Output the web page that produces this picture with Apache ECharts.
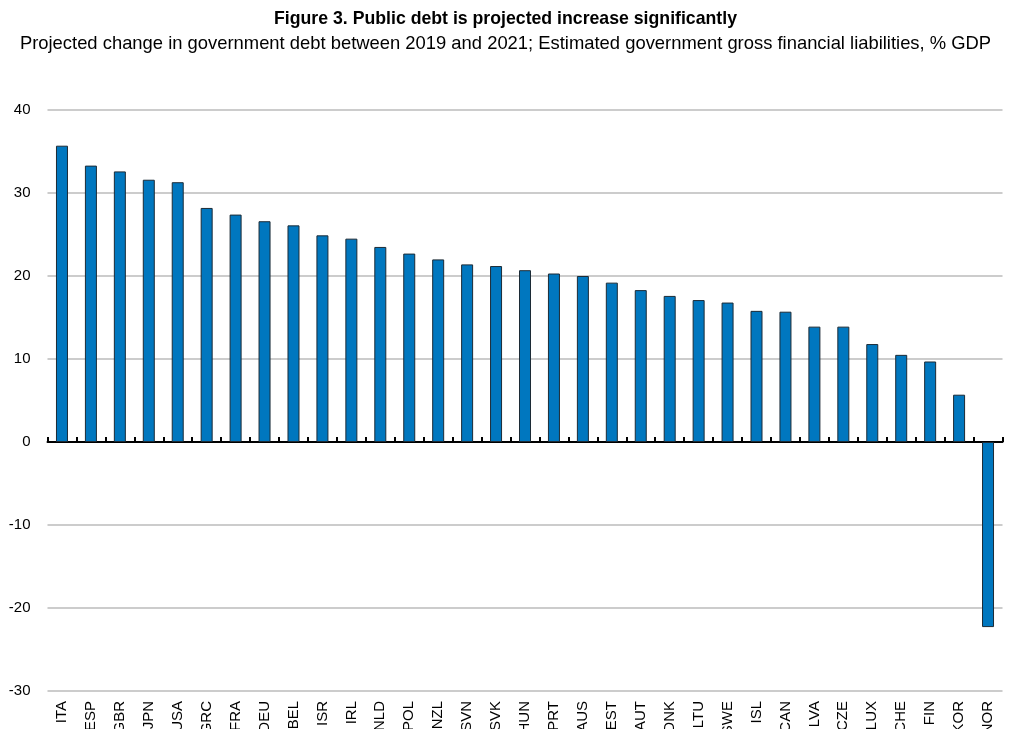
<!DOCTYPE html>
<html>
<head>
<meta charset="utf-8">
<script src="https://cdn.jsdelivr.net/npm/echarts@6/dist/echarts.min.js"></script>
<style>
html,body{margin:0;padding:0;background:#fff;}
#chart{width:1011px;height:729px;}
</style>
</head>
<body>
<div id="chart"></div>
<script>
const titleText = "Figure 3. Public debt is projected increase significantly";
const subtitleText = "Projected change in government debt between 2019 and 2021; Estimated government gross financial liabilities, % GDP";
const categories = ["ITA","ESP","GBR","JPN","USA","GRC","FRA","DEU","BEL","ISR","IRL","NLD","POL","NZL","SVN","SVK","HUN","PRT","AUS","EST","AUT","DNK","LTU","SWE","ISL","CAN","LVA","CZE","LUX","CHE","FIN","KOR","NOR"];
const debtChange = [35.7,33.3,32.6,31.6,31.3,28.2,27.4,26.6,26.1,24.9,24.5,23.5,22.7,22.0,21.4,21.2,20.7,20.3,20.0,19.2,18.3,17.6,17.1,16.8,15.8,15.7,13.9,13.9,11.8,10.5,9.7,5.7,-22.3];
const yTicks = [-30,-20,-10,0,10,20,30,40];

const font = '"Liberation Sans Narrow","Arial Narrow","Liberation Sans",Arial,sans-serif';
const chart = echarts.init(document.getElementById('chart'), null, {renderer:'canvas'});
chart.setOption({
  animation:false,
  backgroundColor:'#ffffff',
  title:[
    {text:titleText,left:'center',top:5,textStyle:{fontFamily:font,fontSize:17.7,fontWeight:'bold',color:'#000'}},
    {text:subtitleText,left:'center',top:30,textStyle:{fontFamily:font,fontSize:18.4,fontWeight:'normal',color:'#000'}}
  ],
  grid:{left:47.5,right:8.5,top:110,bottom:38,containLabel:false,outerBoundsMode:'none'},
  xAxis:[
    {type:'category',data:categories,position:'bottom',
     axisLine:{show:true,onZero:true,lineStyle:{color:'#000',width:2}},
     axisTick:{show:true,inside:true,length:5,interval:0,alignWithLabel:false,lineStyle:{color:'#000',width:2}},
     axisLabel:{show:false}},
    {type:'category',data:categories,position:'bottom',
     axisLine:{show:false,onZero:false},axisTick:{show:false},
     axisLabel:{rotate:90,interval:0,margin:10,fontFamily:font,fontSize:15,color:'#000'}}
  ],
  yAxis:{type:'value',min:-30,max:40,interval:10,
    axisLine:{show:false},axisTick:{show:false},
    axisLabel:{margin:17,fontFamily:font,fontSize:15,color:'#000',
      formatter:v=>yTicks.includes(v)?String(v):''},
    splitLine:{show:true,lineStyle:{color:'#cccccc',width:2}}},
  series:[{
    type:'bar',data:debtChange,xAxisIndex:0,barWidth:12,
    itemStyle:{color:'#0077bf',borderColor:'#1c2b36',borderWidth:1}
  }]
});
</script>
</body>
</html>
